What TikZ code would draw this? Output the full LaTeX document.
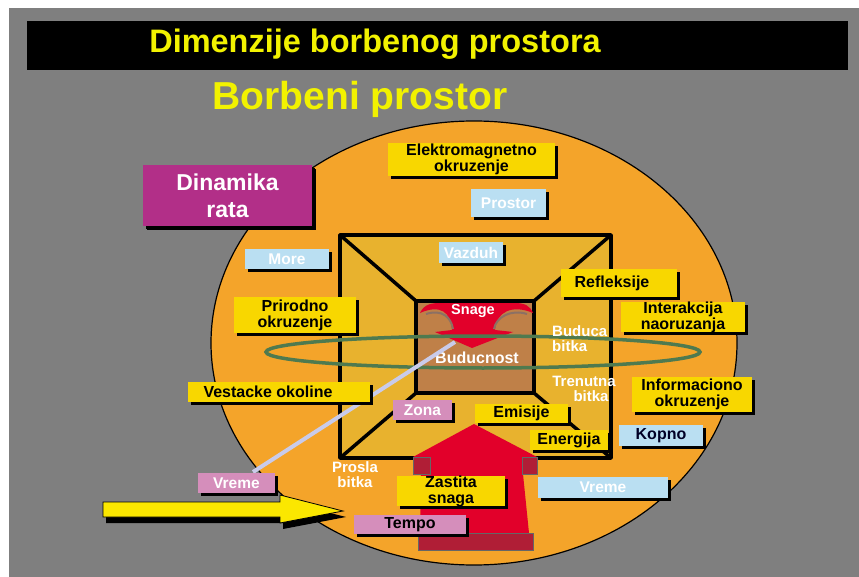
\documentclass[tikz,border=0pt]{standalone}
\usepackage{fontspec}
\setmainfont{Liberation Sans}
\usetikzlibrary{shadows}
\definecolor{bg}{HTML}{7F7F7F}
\definecolor{orng}{HTML}{F4A42A}
\definecolor{gold}{HTML}{E8B22E}
\definecolor{brn}{HTML}{BF8048}
\definecolor{ttl}{HTML}{F2F200}
\definecolor{ylab}{HTML}{F8D700}
\definecolor{blab}{HTML}{BADFF2}
\definecolor{plab}{HTML}{D58EBB}
\definecolor{mag}{HTML}{B22F88}
\definecolor{rd}{HTML}{E2002A}
\definecolor{drd}{HTML}{B01E36}
\definecolor{grn}{HTML}{4F7A4F}
\definecolor{lav}{HTML}{C9CBEA}
\definecolor{arcg}{HTML}{8C7064}
\begin{document}
\begin{tikzpicture}[x=1pt,y=-1pt,
  sz/.style 2 args={minimum width=#1pt, minimum height=#2pt},
  lab/.style={inner sep=0pt, align=center, general shadow={fill=black, shadow xshift=3pt, shadow yshift=-3pt}},
  yl/.style={lab, fill=ylab, text=black, font=\bfseries\fontsize{16}{16}\selectfont},
  bl/.style={lab, fill=blab, text=white, font=\bfseries\fontsize{15.5}{16}\selectfont},
  bk/.style={lab, fill=blab, text=black!85!blue, font=\bfseries\fontsize{16}{16}\selectfont},
  pk/.style={lab, fill=plab, text=white, font=\bfseries\fontsize{15.5}{16}\selectfont},
  pkd/.style={lab, fill=plab, text=black, font=\bfseries\fontsize{16}{16}\selectfont},
  wt/.style={inner sep=0pt, align=center, text=white, font=\bfseries\fontsize{15}{15}\selectfont},
  boxline/.style={line width=3.5pt, line cap=round, line join=round}
]
\useasboundingbox (0,0) rectangle (859,577);
\fill[white] (0,0) rectangle (859,577);
\fill[bg] (9,8) rectangle (859,577);
% title bar
\fill[black] (27,21) rectangle (848,70);
\node[text=ttl, anchor=base, font=\bfseries\fontsize{32.5}{33}\selectfont] (title) at (375,53) {Dimenzije borbenog prostora};
\node[text=ttl, anchor=base, font=\bfseries\fontsize{39}{39}\selectfont] (sub) at (360,110) {Borbeni prostor};
% big ellipse
\draw[fill=orng, line width=1.2pt] (474,343) ellipse [x radius=263, y radius=222];
% outer box
\fill[gold] (340,235) rectangle (611,458);
\fill[brn] (416,301) rectangle (534,393);
\draw[boxline] (340,235) rectangle (611,458);
\draw[boxline] (340,235) -- (416,301);
\draw[boxline] (611,235) -- (534,301);
\draw[boxline] (340,458) -- (416,393);
\draw[boxline] (611,458) -- (534,393);
\draw[boxline] (416,301) rectangle (534,393);
% Snage arrow
\fill[rd] (420,313) .. controls (424,304) and (432,303) .. (440,303) -- (515,303)
  .. controls (525,303) and (530,306) .. (533,313)
  .. controls (512,304) and (496,312) .. (495,330) -- (513,332) -- (472,348) -- (435,332) -- (452,330)
  .. controls (451,312) and (440,304) .. (420,313) -- cycle;
\draw[arcg, line width=2pt] (426,314) .. controls (442,309) and (451,317) .. (453,329);
\draw[arcg, line width=2pt] (527,314) .. controls (511,309) and (496,317) .. (494,329);
\node[wt, font=\bfseries\fontsize{14.5}{15}\selectfont] (snage) at (473,311) {Snage};
% green loop
\draw[grn, line width=3.5pt] (483,352) ellipse [x radius=217, y radius=16];
\node[wt, font=\bfseries\fontsize{16}{16}\selectfont] (bud) at (477,358) {Buducnost};
% red up arrow
\fill[rd] (474,424) -- (537,457) -- (537,474) -- (523,474) -- (529,533) -- (420,533) -- (421,474) -- (413,474) -- (413,457) -- cycle;
\filldraw[fill=drd, draw=black!60, line width=0.6pt] (413,457) rectangle (430,474);
\filldraw[fill=drd, draw=black!60, line width=0.6pt] (522,457) rectangle (537,474);
\filldraw[fill=drd, draw=black!60, line width=0.6pt] (418,533) rectangle (533,550);
% labels
\node[yl, sz={167}{33}] (elek) at (471.5,159.5) {Elektromagnetno\\okruzenje};
\node[bl, sz={75}{28}] (prostor) at (508.5,203) {Prostor};
\node[lab, fill=mag, text=white, sz={169}{61}, font=\bfseries\fontsize{23}{27}\selectfont, general shadow={fill=black, shadow xshift=4pt, shadow yshift=-4pt}] (din) at (227.5,195.5) {Dinamika\\rata};
\node[bl, sz={84}{20}] (more) at (287,259) {More};
\node[bl, sz={64}{21}] (vazduh) at (471,252.5) {Vazduh};
\node[yl, sz={116}{28}] (refl) at (619,283) {\hspace*{-14pt}Refleksije};
\node[yl, sz={122}{36}] (prir) at (295,315) {Prirodno\\okruzenje};
\node[yl, sz={124}{30}] (inter) at (683,317) {Interakcija\\naoruzanja};
\node[wt, align=left, anchor=west] (budb) at (552,339) {Buduca\\bitka};
\node[wt] (tren) at (584,389) {Trenutna\\\hspace*{14pt}bitka};
\node[yl, sz={120}{35}] (info) at (692,394.5) {Informaciono\\okruzenje};
% Vreme line
\draw[lav, line width=4pt] (253,472) -- (455,342);
\node[yl, sz={182}{20}] (vest) at (279,392) {\hspace*{-22pt}Vestacke okoline};
\node[pk, sz={59}{20}] (zona) at (422.5,410) {Zona};
\node[yl, sz={93}{19}] (emis) at (521.5,413.5) {Emisije};
\node[yl, sz={78}{20}] (energ) at (569,440) {Energija};
\node[bk, sz={84}{21}] (kopno) at (661,435.5) {Kopno};
\node[bl, sz={130}{21}] (vreme2) at (603,487.5) {Vreme};
\node[wt] (prosla) at (355,475) {Prosla\\bitka};
\node[pk, sz={77}{20}] (vreme1) at (236.5,483) {Vreme};
\node[yl, sz={108}{28}] (zast) at (451,491) {Zastita\\snaga};
\node[pkd, sz={112}{19}] (tempo) at (410,524.5) {Tempo};
% yellow arrow
\fill[black] (106,508) -- (283,508) -- (283,501) -- (346,517) -- (283,529) -- (283,523) -- (106,523) -- cycle;
\filldraw[fill=ylab!60!yellow, draw=black, line width=0.8pt] (103,502) -- (280,502) -- (280,495) -- (343,511) -- (280,523) -- (280,517) -- (103,517) -- cycle;
\end{tikzpicture}
\end{document}
